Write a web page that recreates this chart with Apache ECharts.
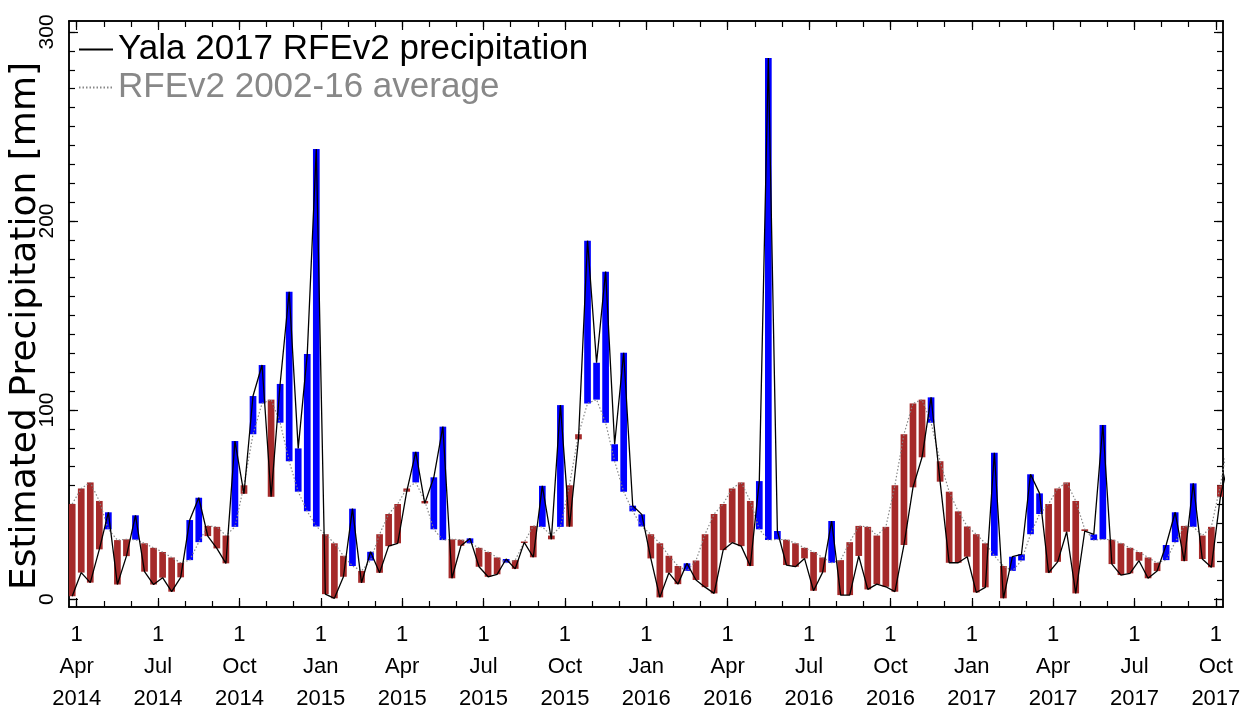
<!DOCTYPE html>
<html>
<head>
<meta charset="utf-8">
<script src="https://cdn.jsdelivr.net/npm/echarts@6/dist/echarts.min.js"></script>
<style>
  html, body { margin: 0; padding: 0; background: #fff; }
  #chart { width: 1254px; height: 716px; }
</style>
</head>
<body>
<div id="chart"></div>
<script>
// Dekads from Mar d3 2014 (index 0) to Oct d1 2017 (index 127); index 128 lies just past the plot edge.
const actual = [
  1.5, 14.0, 8.7, 26.3, 45.9, 7.7, 22.7, 44.3, 14.5, 7.7, 11.3, 3.9,
  11.5, 41.8, 53.6, 33.3, 26.8, 18.9, 83.6, 55.7, 107.4, 123.8, 54.1, 113.8,
  162.6, 79.7, 129.6, 238.1, 2.6, 0.4, 11.8, 47.8, 8.6, 25.0, 13.9, 28.0,
  29.5, 56.8, 77.9, 50.6, 64.4, 91.2, 11.0, 28.2, 32.1, 17.1, 11.8, 13.1,
  21.2, 16.0, 30.0, 22.1, 59.9, 31.6, 102.6, 38.3, 84.5, 189.6, 125.0, 173.2,
  81.9, 130.3, 49.4, 44.8, 21.5, 0.9, 13.9, 7.9, 18.9, 10.1, 6.3, 3.0,
  25.9, 29.8, 28.0, 17.5, 62.4, 286.2, 36.0, 18.0, 17.1, 21.5, 4.4, 14.1,
  41.3, 2.1, 2.1, 22.8, 5.1, 7.9, 6.5, 3.9, 28.6, 59.1, 75.0, 106.7,
  62.1, 19.2, 19.2, 22.4, 3.5, 6.2, 77.4, 0.4, 22.4, 23.7, 66.0, 55.9,
  13.9, 19.7, 35.6, 3.0, 36.0, 34.2, 92.1, 18.5, 12.7, 13.6, 20.3, 11.0,
  14.8, 28.6, 45.9, 20.1, 61.2, 21.2, 16.8, 54.1, 75.0
];
const average = [
  50.3, 58.5, 61.7, 51.9, 36.9, 31.2, 31.6, 31.4, 29.5, 27.1, 24.9, 22.0,
  19.2, 20.6, 30.1, 38.7, 38.2, 33.6, 38.2, 60.2, 87.2, 103.5, 105.5, 93.3,
  72.9, 56.8, 46.4, 38.4, 34.3, 29.5, 22.9, 17.5, 14.9, 20.4, 34.3, 45.0,
  50.3, 58.5, 61.7, 51.9, 36.9, 31.2, 31.6, 31.4, 29.5, 27.1, 24.9, 22.0,
  19.2, 20.6, 30.1, 38.7, 38.2, 33.6, 38.2, 60.2, 87.2, 103.5, 105.5, 93.3,
  72.9, 56.8, 46.4, 38.4, 34.3, 29.5, 22.9, 17.5, 14.9, 20.4, 34.3, 45.0,
  50.3, 58.5, 61.7, 51.9, 36.9, 31.2, 31.6, 31.4, 29.5, 27.1, 24.9, 22.0,
  19.2, 20.6, 30.1, 38.7, 38.2, 33.6, 38.2, 60.2, 87.2, 103.5, 105.5, 93.3,
  72.9, 56.8, 46.4, 38.4, 34.3, 29.5, 22.9, 17.5, 14.9, 20.4, 34.3, 45.0,
  50.3, 58.5, 61.7, 51.9, 36.9, 31.2, 31.6, 31.4, 29.5, 27.1, 24.9, 22.0,
  19.2, 20.6, 30.1, 38.7, 38.2, 33.6, 38.2, 60.2, 87.2
];
const tickMonths = ['Apr','Jul','Oct','Jan','Apr','Jul','Oct','Jan','Apr','Jul','Oct','Jan','Apr','Jul','Oct'];
const tickYears  = ['2014','2014','2014','2015','2015','2015','2015','2016','2016','2016','2016','2017','2017','2017','2017'];
const yMinorTicks = [0,10,20,30,40,50,60,70,80,90,100,110,120,130,140,150,160,170,180,190,200,210,220,230,240,250,260,270,280,290,300];
const yLabels = [0, 100, 200, 300];
const seriesNames = ['Yala 2017 RFEv2 precipitation', 'RFEv2 2002-16 average'];

// axis geometry (dekad units; month m starts at 0.5 + 3m)
const X_MIN = -0.354, X_MAX = 127.29, Y_MIN = -4.2, Y_MAX = 305.8;
const monthTicks = [];
for (let m = 0; m <= 42; m++) monthTicks.push(0.5 + 3 * m);
const quarterTicks = tickMonths.map((_, q) => 0.5 + 9 * q);

const FONT = 'Liberation Sans, Arial, Helvetica, sans-serif';

const diffData = actual.map((v, i) => [i, Math.min(v, average[i]), Math.max(v, average[i]), v > average[i] ? 1 : 0]);

const chart = echarts.init(document.getElementById('chart'), null, { renderer: 'canvas' });

const axLine = { show: true, onZero: false, lineStyle: { color: '#000', width: 1.5 } };
function xAx(pos, ticks, len, labels) {
  return {
    type: 'value', position: pos, min: X_MIN, max: X_MAX, gridIndex: 0,
    axisLine: axLine, splitLine: { show: false },
    axisTick: { show: true, inside: true, length: len, customValues: ticks, lineStyle: { color: '#000', width: 1.2 } },
    axisLabel: labels ? {
      show: true, customValues: quarterTicks, fontSize: 22, lineHeight: 32, color: '#000', fontFamily: FONT, margin: 12,
      formatter: function (val) {
        const q = Math.round((val - 0.5) / 9);
        return '1\n' + tickMonths[q] + '\n' + tickYears[q];
      }
    } : { show: false }
  };
}
function yAx(pos, ticks, len, labels) {
  const a = {
    type: 'value', position: pos, min: Y_MIN, max: Y_MAX, gridIndex: 0,
    axisLine: axLine, splitLine: { show: false },
    axisTick: { show: true, inside: true, length: len, customValues: ticks, lineStyle: { color: '#000', width: 1.2 } },
    axisLabel: labels ? { show: true, customValues: yLabels, rotate: 90, fontSize: 21, color: '#000', fontFamily: FONT, margin: 11 } : { show: false }
  };
  if (labels) {
    a.name = 'Estimated Precipitation [mm]';
    a.nameLocation = 'middle';
    a.nameGap = 25;
    a.nameMoveOverlap = false;
    a.nameTextStyle = { fontSize: 36, lineHeight: 36, color: '#000', fontFamily: 'DejaVu Sans, sans-serif', padding: [0, 24, 0, 0] };
  }
  return a;
}

chart.setOption({
  animation: false,
  backgroundColor: '#fff',
  grid: { left: 69, right: 31, top: 21, bottom: 109, containLabel: false, outerBoundsMode: 'none' },
  legend: {
    left: 73, top: 27, orient: 'vertical', itemWidth: 34, itemHeight: 14, itemGap: 3,
    itemStyle: { opacity: 0 },
    textStyle: { fontSize: 35, lineHeight: 35, fontFamily: FONT, color: '#000' },
    data: [
      { name: seriesNames[0], textStyle: { color: '#000' } },
      { name: seriesNames[1], textStyle: { color: '#888' } }
    ],
    selectedMode: false
  },
  xAxis: [
    xAx('bottom', monthTicks, 6, true),
    xAx('bottom', quarterTicks, 9, false),
    xAx('top', monthTicks, 6, false),
    xAx('top', quarterTicks, 9, false)
  ],
  yAxis: [
    yAx('left', yMinorTicks, 6, true),
    yAx('left', yLabels, 9, false),
    yAx('right', yMinorTicks, 6, false),
    yAx('right', yLabels, 9, false)
  ],
  series: [
    {
      type: 'custom', name: 'diff', xAxisIndex: 0, yAxisIndex: 0, z: 1,
      data: diffData,
      renderItem: function (params, api) {
        const k = api.value(0);
        const top = api.coord([k, api.value(2)]);
        const bot = api.coord([k, api.value(1)]);
        const w = api.size([1, 0])[0] * 0.74;
        let h = bot[1] - top[1];
        let y = top[1];
        if (h < 1.5) { y -= (1.5 - h) / 2; h = 1.5; }
        const rect = echarts.graphic.clipRectByRect(
          { x: top[0] - w / 2, y: y, width: w, height: h },
          { x: params.coordSys.x, y: params.coordSys.y, width: params.coordSys.width, height: params.coordSys.height }
        );
        if (!rect) return null;
        return {
          type: 'rect', shape: rect,
          style: { fill: api.value(3) ? '#0000ff' : '#a52a2a' }
        };
      }
    },
    {
      type: 'line', name: seriesNames[1], xAxisIndex: 0, yAxisIndex: 0, z: 3,
      data: average.map((v, i) => [i, v]),
      symbol: 'none', clip: true,
      lineStyle: { color: '#888', width: 1.2, type: [1.5, 2] },
      itemStyle: { color: '#888' }
    },
    {
      type: 'line', name: seriesNames[0], xAxisIndex: 0, yAxisIndex: 0, z: 4,
      data: actual.map((v, i) => [i, v]),
      symbol: 'none', clip: true,
      lineStyle: { color: '#000', width: 1.3 },
      itemStyle: { color: '#000' }
    }
  ]
});
</script>
</body>
</html>
